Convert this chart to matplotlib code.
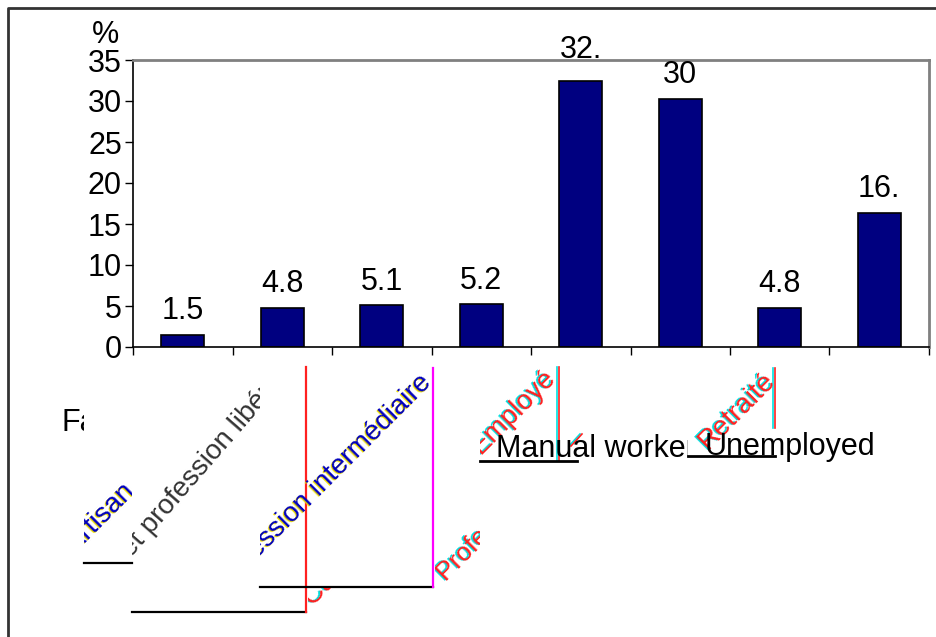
import matplotlib
matplotlib.use("Agg")
import matplotlib.pyplot as plt
from matplotlib.transforms import Bbox, TransformedBbox, offset_copy
from matplotlib.lines import Line2D

# data
categories = ["Farmers", "Artisan, commerçant", "Cadre et profession libérale",
              "Profession intermédiaire", "Employé", "Manual workers",
              "Retraité", "Unemployed"]
values = [1.5, 4.8, 5.1, 5.2, 32.5, 30.3, 4.8, 16.4]
value_labels = ["1.5", "4.8", "5.1", "5.2", "32.", "30", "4.8", "16."]
y_ticks = [0, 5, 10, 15, 20, 25, 30, 35]

W, H = 937, 637
plt.rcParams['font.family'] = ['Liberation Sans', 'DejaVu Sans']


def fx(x):
    return x / W


def fy(y):
    return 1 - y / H


def px_line(fig, xs, ys, color="black", lw=1.6):
    fig.add_artist(Line2D([fx(x) for x in xs], [fy(y) for y in ys],
                          transform=fig.transFigure, color=color, lw=lw))


def clipped_text(fig, x, y, s, clip, color, shadow=None, size=20, rot=45,
                 dx=-1, dy=-1, ha="left"):
    # clip = (x0, y0, x1, y1) in pixels, y from top
    box = TransformedBbox(Bbox([[fx(clip[0]), fy(clip[3])], [fx(clip[2]), fy(clip[1])]]),
                          fig.transFigure)
    layers = []
    if shadow is not None:
        tr = offset_copy(fig.transFigure, fig=fig, x=dx, y=dy, units="dots")
        layers.append((shadow, tr))
    layers.append((color, fig.transFigure))
    for c, tr in layers:
        t = fig.text(fx(x), fy(y), s, color=c, fontsize=size, rotation=rot,
                     rotation_mode="anchor", ha=ha, va="baseline", transform=tr)
        t.set_clip_box(box)
        t.set_clip_on(True)


fig = plt.figure(figsize=(9.37, 6.37), dpi=100)
ax = fig.add_axes([fx(133), fy(347), (929 - 133) / W, (347 - 60) / H])

xs = list(range(len(values)))
ax.bar(xs, values, width=0.43, color="#000080", edgecolor="black", linewidth=1.2)
ax.set_xlim(-0.5, len(values) - 0.5)
ax.set_ylim(0, 35)
ax.set_yticks(y_ticks)
ax.set_yticklabels([str(v) for v in y_ticks], fontsize=22)
ax.set_xticks([i - 0.5 for i in range(len(values) + 1)])
ax.set_xticklabels([])
ax.tick_params(axis="y", length=6, width=1, pad=2)
ax.tick_params(axis="x", length=6, width=1)
for side in ["top", "right"]:
    ax.spines[side].set_color("#808080")
    ax.spines[side].set_linewidth(2)
for side in ["left", "bottom"]:
    ax.spines[side].set_linewidth(1.2)

for i, (v, lab) in enumerate(zip(values, value_labels)):
    off = 11 if i == 4 else 6
    ax.annotate(lab, (i, v), xytext=(0, off), textcoords="offset points",
                ha="center", va="bottom", fontsize=22, annotation_clip=False)

fig.text(fx(106), fy(43), "%", fontsize=22, ha="center", va="baseline")

# outer frame, only left and top survive
px_line(fig, [8, 8, W], [H, 8, 8], color="#333333", lw=2)

red, cyan = "#ff2020", "#00e0e0"
blue, yellow = "#0000c0", "#f0e000"

# broken category labels below the axis
clipped_text(fig, 62, 431, categories[0], (40, 380, 84, 470), "black", size=22, rot=0)

clipped_text(fig, 75, 554, categories[1], (84, 360, 132, 562), blue, yellow)
px_line(fig, [84, 132], [563, 563])

clipped_text(fig, 76, 621, categories[2], (132, 360, 260, 611), "#333333", rot=49)
px_line(fig, [132, 306], [612, 612], color="black")
px_line(fig, [306, 306], [612, 367], color=red)

clipped_text(fig, 432, 384, categories[3], (260, 360, 432, 586), blue, yellow, ha="right")
px_line(fig, [260, 433], [587, 587])
px_line(fig, [433, 433], [587, 368], color="#ff00ff")

clipped_text(fig, 313, 607, categories[2], (308, 588, 433, 637), red, cyan, dx=-2, dy=0)
clipped_text(fig, 446, 582, categories[3], (435, 360, 480, 637), red, cyan, size=19, dx=-2, dy=0)

clipped_text(fig, 557, 378, categories[4], (480, 360, 556, 460), red, cyan, dx=-2, dy=0, ha="right")
px_line(fig, [557, 557], [461, 367], color=cyan, lw=1.2)
px_line(fig, [559, 559], [461, 367], color=red, lw=1.2)
px_line(fig, [569, 580], [446, 434], color=cyan, lw=1.2)
px_line(fig, [571, 582], [446, 434], color=red, lw=1.2)
clipped_text(fig, 496, 457, categories[5], (480, 380, 688, 480), "black", size=22, rot=0)
px_line(fig, [480, 577], [461, 461], lw=2)

clipped_text(fig, 776, 381, categories[6], (688, 360, 773, 455), red, cyan, dx=-2, dy=0, ha="right")
px_line(fig, [773, 773], [428, 368], color=cyan, lw=1.2)
px_line(fig, [775, 775], [428, 368], color=red, lw=1.2)
px_line(fig, [688, 775], [456, 456], lw=2)
fig.text(fx(705), fy(455), categories[7], fontsize=22, ha="left", va="baseline")

fig.savefig("out.png", dpi=100)
